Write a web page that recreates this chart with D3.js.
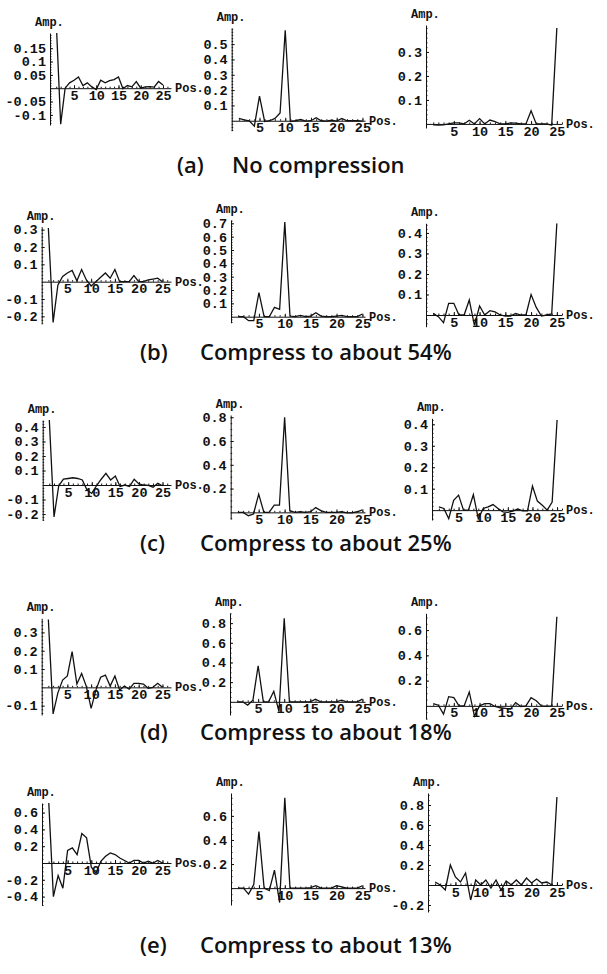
<!DOCTYPE html>
<html>
<head>
<meta charset="utf-8">
<script src="https://cdn.jsdelivr.net/npm/d3@7"></script>
<style>
body { margin: 0; background: #fff; }
.tick text { font-family: "Liberation Mono", monospace; font-size: 13.5px; font-weight: bold; fill: #111; }
.lbl { font-family: "Liberation Mono", monospace; font-size: 12px; font-weight: bold; fill: #111; }
.cap { font-family: "Open Sans", sans-serif; font-size: 22px; font-weight: 600; fill: #111; }
</style>
</head>
<body>
<div id="chart"></div>
<script>

// positions along the x axis
const positions = [1,2,3,4,5,6,7,8,9,10,11,12,13,14,15,16,17,18,19,20,21,22,23,24,25];
const xTicks = [5,10,15,20,25];

// (a) no compression
const noCompLeft  = [0.25,-0.135,0.0,0.02,0.03,0.042,0.01,0.02,0.005,-0.005,0.03,0.02,0.028,0.032,0.042,-0.002,0.01,0.005,0.025,0.0,0.005,0.006,0.004,0.025,0.012];
const noCompMid   = [0.015,0.005,0.0,-0.035,0.16,-0.005,0.0,0.015,0.05,0.59,-0.005,0.0,0.008,-0.003,0.0,0.02,0.0,-0.002,0.003,-0.002,0.015,0.0,0.0,0.0,-0.002];
const noCompRight = [-0.004,-0.005,-0.004,0.0,0.004,0.004,0.0,0.015,0.0,0.022,0.0,0.016,0.01,0.0,0.0,0.004,0.003,0.0,0.0,0.055,0.0,0.0,0.0,-0.005,0.4];

// (b) 54%
const c54Left  = [0.31,-0.235,-0.02,0.03,0.05,0.065,0.005,0.07,0.01,-0.025,0.0,0.025,0.05,0.02,0.07,0.0,0.0,0.0,0.035,0.0,0.0,0.01,0.015,0.02,0.0];
const c54Mid   = [0.0,0.0,-0.03,-0.03,0.18,0.0,0.0,0.07,0.055,0.71,0.005,0.0,0.01,0.0,0.005,0.03,0.005,0.0,0.0,0.005,0.01,0.0,0.0,0.0,0.02];
const c54Right = [0.008,-0.008,-0.037,0.057,0.057,0.0,0.0,0.073,-0.05,0.044,0.0,0.021,0.015,0.0,-0.005,-0.005,0.008,0.0,0.0,0.1,0.037,-0.005,0.0,0.005,0.447];

// (c) 25%
const c25Left  = [0.45,-0.22,-0.005,0.04,0.045,0.05,0.045,0.035,-0.035,-0.058,-0.005,0.04,0.08,0.035,0.062,-0.01,0.0,-0.01,0.04,0.007,0.0,-0.003,-0.015,0.012,-0.005];
const c25Mid   = [0.0,0.0,-0.028,-0.014,0.153,0.0,0.0,0.06,0.06,0.8,0.014,0.0,0.005,0.0,0.005,0.04,0.014,0.0,0.0,0.0,0.005,-0.005,-0.005,0.005,0.02];
const c25Right = [0.015,0.008,-0.04,0.046,0.07,0.0,0.0,0.072,-0.04,0.008,0.015,0.026,0.008,-0.008,-0.01,-0.005,0.005,-0.003,-0.003,0.112,0.042,0.023,0.0,0.038,0.42];

// (d) 18%
const c18Left  = [0.37,-0.145,-0.03,0.04,0.062,0.195,0.018,0.076,0.004,-0.115,-0.015,0.055,0.067,0.007,0.062,-0.015,0.007,-0.01,0.022,0.022,0.018,-0.005,0.0,0.022,0.0];
const c18Mid   = [0.0,0.0,-0.033,0.017,0.367,0.0,0.0,0.107,-0.1,0.85,0.0,0.0,0.0,0.0,0.0,0.027,0.0,0.0,0.0,0.0,0.017,0.0,0.0,0.0,0.027];
const c18Right = [0.018,0.005,-0.065,0.073,0.065,0.0,0.0,0.11,-0.08,0.0,0.018,0.018,-0.005,-0.015,-0.02,-0.026,0.026,-0.005,0.0,0.065,0.04,0.0,-0.003,0.0,0.706];

// (e) 13%
const c13Left  = [0.75,-0.4,-0.15,-0.3,0.15,0.18,0.1,0.35,0.3,-0.05,-0.12,0.02,0.08,0.12,0.1,0.06,0.03,0.0,0.03,0.03,0.0,0.02,0.0,0.03,0.0];
const c13Mid   = [0.0,0.0,-0.05,0.03,0.47,0.0,-0.02,0.15,-0.12,0.75,0.0,0.0,0.0,0.0,0.005,0.02,0.0,0.0,0.0,0.02,0.01,0.0,0.0,0.0,0.02];
const c13Right = [0.03,0.0,-0.05,0.2,0.08,0.03,0.12,-0.15,0.05,0.0,0.05,-0.03,0.05,-0.05,0.04,0.0,0.05,0.0,0.07,0.02,0.06,0.02,0.03,0.0,0.88];

// y tick labels per panel
const ticksA = [[-0.1,-0.05,0.05,0.1,0.15],[0.1,0.2,0.3,0.4,0.5],[0.1,0.2,0.3]];
const ticksB = [[-0.2,-0.1,0.1,0.2,0.3],[0.1,0.2,0.3,0.4,0.5,0.6,0.7],[0.1,0.2,0.3,0.4]];
const ticksC = [[-0.2,-0.1,0.1,0.2,0.3,0.4],[0.2,0.4,0.6,0.8],[0.1,0.2,0.3,0.4]];
const ticksD = [[-0.1,0.1,0.2,0.3],[0.2,0.4,0.6,0.8],[0.2,0.4,0.6]];
const ticksE = [[-0.4,-0.2,0.2,0.4,0.6],[0.2,0.4,0.6],[-0.2,0.2,0.4,0.6,0.8]];

// y ranges per panel
const rangesA = [[-0.138,0.207],[-0.065,0.605],[-0.017,0.4125]];
const rangesB = [[-0.24,0.317],[-0.045,0.725],[-0.057,0.447]];
const rangesC = [[-0.241,0.448],[-0.056,0.819],[-0.046,0.428]];
const rangesD = [[-0.151,0.377],[-0.134,0.9],[-0.104,0.733]];
const rangesE = [[-0.5,0.714],[-0.14,0.79],[-0.27,0.92]];

const captionLetters = ['(a)','(b)','(c)','(d)','(e)'];
const captionTexts = ['No compression','Compress to about 54%','Compress to about 25%','Compress to about 18%','Compress to about 13%'];

const series = [
    [noCompLeft, noCompMid, noCompRight],
    [c54Left, c54Mid, c54Right],
    [c25Left, c25Mid, c25Right],
    [c18Left, c18Mid, c18Right],
    [c13Left, c13Mid, c13Right]
];
const yTicks = [ticksA, ticksB, ticksC, ticksD, ticksE];
const yRanges = [rangesA, rangesB, rangesC, rangesD, rangesE];

// layout: y axis x position, top and bottom of y axis, per panel
const boxes = [
    [[50,33,125],[231.7,28,130.7],[426,25,128]],
    [[41.7,226.7,323.3],[231,220,322.7],[426,223.3,326.7]],
    [[42.7,420,520],[230.7,415,519],[432,418.3,520]],
    [[41.7,618.3,715],[230,613.3,715],[426,613.3,719]],
    [[42,803,905],[231,793,905],[428,793,912]]
];
const xDomains = [[-0.4,26.8],[-0.4,25.5],[-0.4,26]];
const xEnds = [171,365,562];
const captionY = [173,360,551,740,953];
const captionX = [[177,232],[140,200],[140,200],[140,200],[140,200]];

const W = 607, H = 974;
const svg = d3.select('#chart').append('svg')
    .attr('width', W)
    .attr('height', H);

let clipId = 0;

series.forEach((row, r) => {
    row.forEach((vals, c) => {
        const [axisX, top, bottom] = boxes[r][c];
        const x = d3.scaleLinear().domain(xDomains[c]).range([axisX, xEnds[c]]);
        const y = d3.scaleLinear().domain(yRanges[r][c]).range([bottom, top]);
        const g = svg.append('g');
        const ticks = yTicks[r][c];

        // minor tick step
        let major = d3.min(d3.pairs(ticks), p => +(p[1]-p[0]).toFixed(3));
        let minor = major >= 0.2 ? 0.05 : major / 5;
        const minorTicks = d3.range(Math.ceil(yRanges[r][c][0]/minor), Math.floor(yRanges[r][c][1]/minor)+1)
            .map(k => +(k*minor).toFixed(4));

        // y axis
        g.append('g')
            .attr('transform', `translate(${axisX},0)`)
            .call(d3.axisLeft(y).tickValues(minorTicks).tickSize(-1.5).tickSizeOuter(0).tickFormat(''))
            .call(a => a.select('.domain').attr('stroke', '#111'))
            .selectAll('line').attr('stroke', '#111');

        g.append('g')
            .attr('transform', `translate(${axisX},0)`)
            .call(d3.axisLeft(y).tickValues(ticks).tickSize(-3).tickSizeOuter(0).tickPadding(4).tickFormat(d => String(d)))
            .call(a => a.select('.domain').remove())
            .call(a => a.selectAll('line').attr('stroke', '#111'))
            .call(a => a.attr('font-family', null).attr('font-size', null));

        // x axis at zero
        const y0 = y(0);
        g.append('g')
            .attr('transform', `translate(0,${y0})`)
            .call(d3.axisBottom(x).tickValues(d3.range(1, Math.floor(xDomains[c][1]) + 1)).tickSize(-1.5).tickSizeOuter(0).tickFormat(''))
            .call(a => a.select('.domain').attr('stroke', '#111'))
            .selectAll('line').attr('stroke', '#111');

        g.append('g')
            .attr('transform', `translate(0,${y0})`)
            .call(d3.axisBottom(x).tickValues(xTicks).tickSize(-3).tickSizeOuter(0).tickPadding(2))
            .call(a => a.select('.domain').remove())
            .call(a => a.selectAll('line').attr('stroke', '#111'))
            .call(a => a.attr('font-family', null).attr('font-size', null));

        // labels
        g.append('text').attr('class', 'lbl')
            .attr('x', axisX - 15).attr('y', top - 7)
            .text('Amp.');
        g.append('text').attr('class', 'lbl')
            .attr('x', xEnds[c] + 4).attr('y', y0 + 4)
            .text('Pos.');

        // line, clipped to the plot range
        const id = 'clip' + (clipId++);
        svg.append('clipPath').attr('id', id)
            .append('rect')
            .attr('x', axisX - 2).attr('y', top)
            .attr('width', xEnds[c] - axisX + 4).attr('height', bottom - top + 2);

        g.append('path')
            .datum(vals)
            .attr('clip-path', `url(#${id})`)
            .attr('fill', 'none')
            .attr('stroke', '#111')
            .attr('stroke-width', 1.3)
            .attr('stroke-linejoin', 'miter')
            .attr('d', d3.line().x((d, i) => x(positions[i])).y(d => y(d)));
    });

    // caption
    svg.append('text').attr('class', 'cap')
        .attr('x', captionX[r][0]).attr('y', captionY[r])
        .text(captionLetters[r]);
    svg.append('text').attr('class', 'cap')
        .attr('x', captionX[r][1]).attr('y', captionY[r])
        .text(captionTexts[r]);
});

</script>
</body>
</html>
